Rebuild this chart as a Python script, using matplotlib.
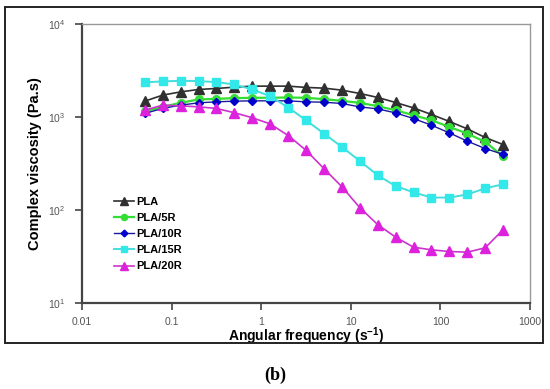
import numpy as np
import matplotlib
matplotlib.use("Agg")
import matplotlib.pyplot as plt
from matplotlib.patches import Rectangle
from matplotlib.ticker import FixedLocator, NullLocator, FuncFormatter

plt.rcParams['font.family'] = ['Liberation Sans', 'DejaVu Sans']
plt.rcParams['mathtext.fontset'] = 'custom'
plt.rcParams['mathtext.rm'] = 'Liberation Sans'
plt.rcParams['mathtext.it'] = 'Liberation Sans:italic'
plt.rcParams['mathtext.bf'] = 'Liberation Sans:bold'

# Angular frequency (s^-1)
freq = [0.0501, 0.0794, 0.126, 0.2, 0.316, 0.501, 0.794, 1.26, 2.0, 3.16, 5.01,
        7.94, 12.6, 20.0, 31.6, 50.1, 79.4, 126, 200, 316, 501]

# Complex viscosity (Pa.s)
pla = [1479, 1718, 1862, 1977, 2027, 2093, 2147, 2147, 2147, 2080, 2043,
       1945, 1791, 1622, 1432, 1253, 1064, 895, 745, 602, 505]
pla_5r = [1150, 1285, 1420, 1545, 1567, 1596, 1608, 1610, 1622, 1608, 1556,
          1491, 1420, 1307, 1183, 1045, 924, 782, 664, 539, 378]
pla_10r = [1091, 1236, 1341, 1420, 1455, 1480, 1492, 1492, 1492, 1455, 1443,
           1397, 1285, 1222, 1107, 963, 816, 675, 549, 458, 397]
pla_15r = [2356, 2415, 2450, 2432, 2372, 2240, 1977, 1675, 1265, 924, 664,
           477, 337, 236, 181, 155, 136, 136, 147, 171, 189]
pla_20r = [1183, 1341, 1318, 1285, 1236, 1112, 982, 843, 632, 439, 279,
           178, 106, 69.5, 51.1, 39.8, 37.3, 35.8, 35.2, 39.2, 61.4]

labels = ["PLA", "PLA/5R", "PLA/10R", "PLA/15R", "PLA/20R"]
x_ticks = [0.01, 0.1, 1, 10, 100, 1000]
x_ticklabels = ["0.01", "0.1", "1", "10", "100", "1000"]
y_ticks = [10, 100, 1000, 10000]

fig = plt.figure(figsize=(5.5, 3.89), dpi=100)
ax = fig.add_axes([82/550, 1-303/389, (530-82)/550, (303-24)/389])

styles = [
    dict(color='#303030', marker='^', ms=6.5, mfc='#303030', mec='#303030', lw=1.2),
    dict(color='#33dd33', marker='o', ms=5.5, mfc='#33dd33', mec='#33dd33', lw=1.6),
    dict(color='#1a1a99', marker='D', ms=4.3, mfc='#0000cc', mec='#0000cc', lw=1.0),
    dict(color='#44dddd', marker='s', ms=6.2, mfc='#33e8e8', mec='#33e8e8', lw=1.4),
    dict(color='#cc33cc', marker='^', ms=6.5, mfc='#dd22dd', mec='#dd22dd', lw=1.2),
]
series = [pla, pla_5r, pla_10r, pla_15r, pla_20r]
for s, lab, st in zip(series, labels, styles):
    ax.plot(freq, s, label=lab, **st)

ax.set_xscale('log')
ax.set_yscale('log')
ax.set_xlim(0.01, 1000)
ax.set_ylim(10, 10000)

ax.xaxis.set_major_locator(FixedLocator(x_ticks))
ax.xaxis.set_minor_locator(NullLocator())
ax.set_xticklabels(x_ticklabels)
ax.yaxis.set_major_locator(FixedLocator(y_ticks))
ax.yaxis.set_minor_locator(NullLocator())
ax.yaxis.set_major_formatter(FuncFormatter(lambda v, p: r'$10^{%d}$' % int(round(np.log10(v)))))

ax.tick_params(axis='both', direction='out', length=5, width=1.2, color='#444444',
               labelsize=7.5, labelcolor='#555555')
ax.tick_params(axis='y', pad=7)
ax.tick_params(axis='x', pad=5)

for side in ['top', 'right']:
    ax.spines[side].set_color('#999999')
    ax.spines[side].set_linewidth(1.0)
for side in ['left', 'bottom']:
    ax.spines[side].set_color('#444444')
    ax.spines[side].set_linewidth(1.6)

ax.set_xlabel(r'Angular frequency (s$^{\mathbf{-1}}$)', fontsize=10, fontweight='bold', labelpad=-1)
ax.set_ylabel('Complex viscosity (Pa.s)', fontsize=10.5, fontweight='bold', labelpad=4)

leg = ax.legend(loc='upper left', bbox_to_anchor=(0.06, 0.40), frameon=False,
                prop={'weight': 'bold', 'size': 8}, handlelength=1.8,
                handletextpad=0.2, labelspacing=0.55, borderpad=0, markerscale=0.8)

fig.patches.append(Rectangle((5/550, 1-343/389), (543-5)/550, (343-7)/389,
                             transform=fig.transFigure, fill=False,
                             edgecolor='#222222', linewidth=1.4))

fig.text(275/550, 1-375/389, '(b)', fontsize=13, fontweight='bold',
         family=['Liberation Serif', 'DejaVu Serif'], ha='center', va='center')

fig.savefig('out.png', dpi=100)
